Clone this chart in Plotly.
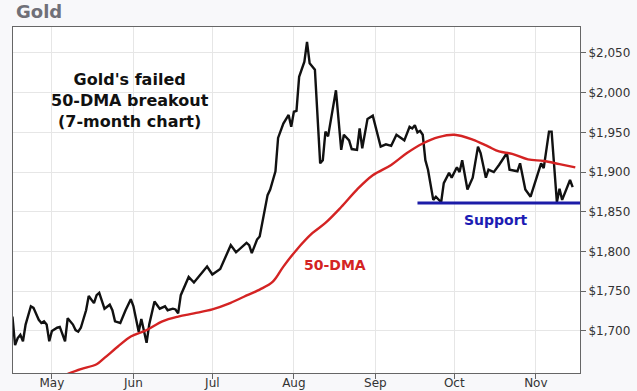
import plotly.graph_objects as go

# ---- data ----
gold_dates = [
    "2020-04-16", "2020-04-17", "2020-04-18", "2020-04-19", "2020-04-20", "2020-04-21", "2020-04-23",
    "2020-04-24", "2020-04-26", "2020-04-27", "2020-04-28", "2020-04-29", "2020-04-30",
    "2020-05-01", "2020-05-03", "2020-05-04", "2020-05-06", "2020-05-07", "2020-05-09", "2020-05-10",
    "2020-05-11", "2020-05-12", "2020-05-14", "2020-05-15", "2020-05-17", "2020-05-18", "2020-05-19",
    "2020-05-21", "2020-05-23", "2020-05-24", "2020-05-25", "2020-05-27", "2020-05-29", "2020-05-31",
    "2020-06-01", "2020-06-02", "2020-06-03", "2020-06-04", "2020-06-06", "2020-06-07", "2020-06-09",
    "2020-06-11", "2020-06-13", "2020-06-14", "2020-06-16", "2020-06-17", "2020-06-18", "2020-06-19",
    "2020-06-22", "2020-06-24", "2020-06-26", "2020-06-27", "2020-06-29",
    "2020-07-01", "2020-07-03", "2020-07-04", "2020-07-08", "2020-07-10", "2020-07-14", "2020-07-15",
    "2020-07-16", "2020-07-18", "2020-07-19", "2020-07-22", "2020-07-23", "2020-07-25", "2020-07-26",
    "2020-07-28", "2020-07-30", "2020-07-31",
    "2020-08-01", "2020-08-02", "2020-08-03", "2020-08-05", "2020-08-06", "2020-08-07", "2020-08-09",
    "2020-08-11", "2020-08-12", "2020-08-13", "2020-08-14", "2020-08-16", "2020-08-17", "2020-08-19",
    "2020-08-20", "2020-08-22", "2020-08-23", "2020-08-25", "2020-08-26", "2020-08-27", "2020-08-29",
    "2020-08-31",
    "2020-09-02", "2020-09-03", "2020-09-05", "2020-09-06", "2020-09-07", "2020-09-09", "2020-09-10",
    "2020-09-12", "2020-09-14", "2020-09-15", "2020-09-16", "2020-09-17", "2020-09-18", "2020-09-19",
    "2020-09-20", "2020-09-21", "2020-09-23", "2020-09-24", "2020-09-26", "2020-09-27", "2020-09-29",
    "2020-09-30",
    "2020-10-02", "2020-10-03", "2020-10-04", "2020-10-06", "2020-10-08", "2020-10-10", "2020-10-11",
    "2020-10-13", "2020-10-14", "2020-10-16", "2020-10-18", "2020-10-21", "2020-10-22", "2020-10-25",
    "2020-10-26", "2020-10-28", "2020-10-30",
    "2020-11-01", "2020-11-03", "2020-11-04", "2020-11-06", "2020-11-07", "2020-11-09", "2020-11-10",
    "2020-11-11", "2020-11-14", "2020-11-15",
]
gold_prices = [
    1718, 1682, 1691, 1695, 1687, 1708, 1731, 1729, 1714, 1710, 1712, 1708, 1687,
    1700, 1704, 1705, 1687, 1716, 1708, 1701, 1699, 1704, 1726, 1744, 1735, 1745, 1748,
    1728, 1733, 1726, 1712, 1710, 1726, 1740,
    1731, 1716, 1699, 1715, 1685, 1708, 1737, 1728, 1731, 1726, 1728, 1727, 1722, 1745,
    1768, 1761, 1769, 1773, 1781,
    1771, 1776, 1778, 1808, 1799, 1811, 1808, 1798, 1815, 1819, 1871, 1878, 1901, 1943,
    1961, 1972, 1957,
    1976, 1977, 2020, 2039, 2064, 2037, 2029, 1911, 1915, 1951, 1945, 1982, 2003, 1928,
    1947, 1940, 1929, 1928, 1955, 1930, 1967, 1971,
    1945, 1932, 1935, 1934, 1933, 1947, 1945, 1940, 1957, 1955, 1959, 1950, 1952, 1947,
    1915, 1903, 1865, 1869, 1862, 1886, 1899, 1893,
    1906, 1900, 1915, 1878, 1893, 1932, 1924, 1893, 1903, 1900, 1909, 1924, 1903, 1901,
    1911, 1878, 1869,
    1890, 1911, 1905, 1951, 1951, 1862, 1879, 1865, 1890, 1881,
]

dma_dates = [
    "2020-05-07", "2020-05-12", "2020-05-18", "2020-05-21", "2020-05-26", "2020-05-31", "2020-06-06",
    "2020-06-12", "2020-06-18", "2020-06-24", "2020-07-01", "2020-07-07", "2020-07-13", "2020-07-19",
    "2020-07-24", "2020-07-28", "2020-08-02", "2020-08-08", "2020-08-13", "2020-08-19", "2020-08-25",
    "2020-08-31", "2020-09-07", "2020-09-13", "2020-09-19", "2020-09-25", "2020-10-01", "2020-10-08",
    "2020-10-14", "2020-10-18", "2020-10-23", "2020-10-29", "2020-11-04", "2020-11-10", "2020-11-16",
]
dma_values = [
    1646, 1652, 1658, 1666, 1680, 1693, 1701, 1712, 1718, 1722, 1727, 1734, 1743, 1752,
    1762, 1781, 1802, 1823, 1836, 1856, 1878, 1896, 1909, 1924, 1936, 1944, 1947, 1941,
    1932, 1926, 1923, 1916, 1914, 1910, 1906,
]

support_level = 1861
support_dates = ["2020-09-17", "2020-11-17 19:00"]

x_range = ["2020-04-16 05:00", "2020-11-17 19:00"]
y_range = [1647, 2082.7]

month_ticks = ["2020-05-01", "2020-06-01", "2020-07-01", "2020-08-01",
               "2020-09-01", "2020-10-01", "2020-11-01"]
month_labels = ["May", "Jun", "Jul", "Aug", "Sep", "Oct", "Nov"]
price_ticks = [1700, 1750, 1800, 1850, 1900, 1950, 2000, 2050]
price_labels = ["$1,700", "$1,750", "$1,800", "$1,850", "$1,900", "$1,950", "$2,000", "$2,050"]

FONT = "DejaVu Sans"

fig = go.Figure()
fig.add_trace(go.Scatter(x=gold_dates, y=gold_prices, mode="lines",
                         line=dict(color="#111111", width=2.4), hoverinfo="skip"))
fig.add_trace(go.Scatter(x=dma_dates, y=dma_values, mode="lines",
                         line=dict(color="#d42323", width=2.4, shape="spline"), hoverinfo="skip"))
fig.add_trace(go.Scatter(x=support_dates, y=[support_level, support_level], mode="lines",
                         line=dict(color="#1c1ca8", width=3), hoverinfo="skip"))

fig.update_layout(
    width=637, height=391, autosize=False,
    margin=dict(l=13, r=57, t=27, b=18),
    paper_bgcolor="#f8f8fa", plot_bgcolor="#ffffff",
    showlegend=False,
    font=dict(family=FONT, size=12, color="#333333"),
    title=dict(text="<b>Gold</b>", x=16 / 637, xref="container", xanchor="left",
               y=1 - 12 / 391, yref="container", yanchor="middle",
               font=dict(family=FONT, size=18, color="#707078")),
    annotations=[
        dict(text="<b>Gold's failed<br>50-DMA breakout<br>(7-month chart)</b>",
             xref="paper", yref="paper", x=0.206, y=0.789, xanchor="center", yanchor="middle",
             showarrow=False, font=dict(family=FONT, size=16, color="#111111")),
        dict(text="<b>50-DMA</b>", xref="paper", yref="paper", x=0.568, y=0.312,
             xanchor="center", yanchor="middle", showarrow=False,
             font=dict(family=FONT, size=14, color="#d42323")),
        dict(text="<b>Support</b>", xref="paper", yref="paper", x=0.852, y=0.442,
             xanchor="center", yanchor="middle", showarrow=False,
             font=dict(family=FONT, size=14, color="#1c1cb4")),
    ],
)

fig.update_xaxes(
    type="date", range=x_range, tickvals=month_ticks, ticktext=month_labels,
    showgrid=True, gridcolor="#e6e6e6", gridwidth=1,
    showline=True, linecolor="#666666", linewidth=1, mirror=True,
    ticks="outside", ticklen=5, tickcolor="#666666", zeroline=False,
    ticklabelstandoff=-6, automargin=False,
    tickfont=dict(family=FONT, size=12, color="#333333"),
)
fig.update_yaxes(
    range=y_range, side="right", tickvals=price_ticks, ticktext=price_labels,
    showgrid=True, gridcolor="#e6e6e6", gridwidth=1,
    showline=True, linecolor="#666666", linewidth=1, mirror=True,
    ticks="outside", ticklen=5, tickcolor="#666666", zeroline=False,
    automargin=False,
    tickfont=dict(family=FONT, size=12, color="#333333"),
)

fig.write_html("out.html", config={"displayModeBar": False},
               post_script="document.body.style.margin='0';")
